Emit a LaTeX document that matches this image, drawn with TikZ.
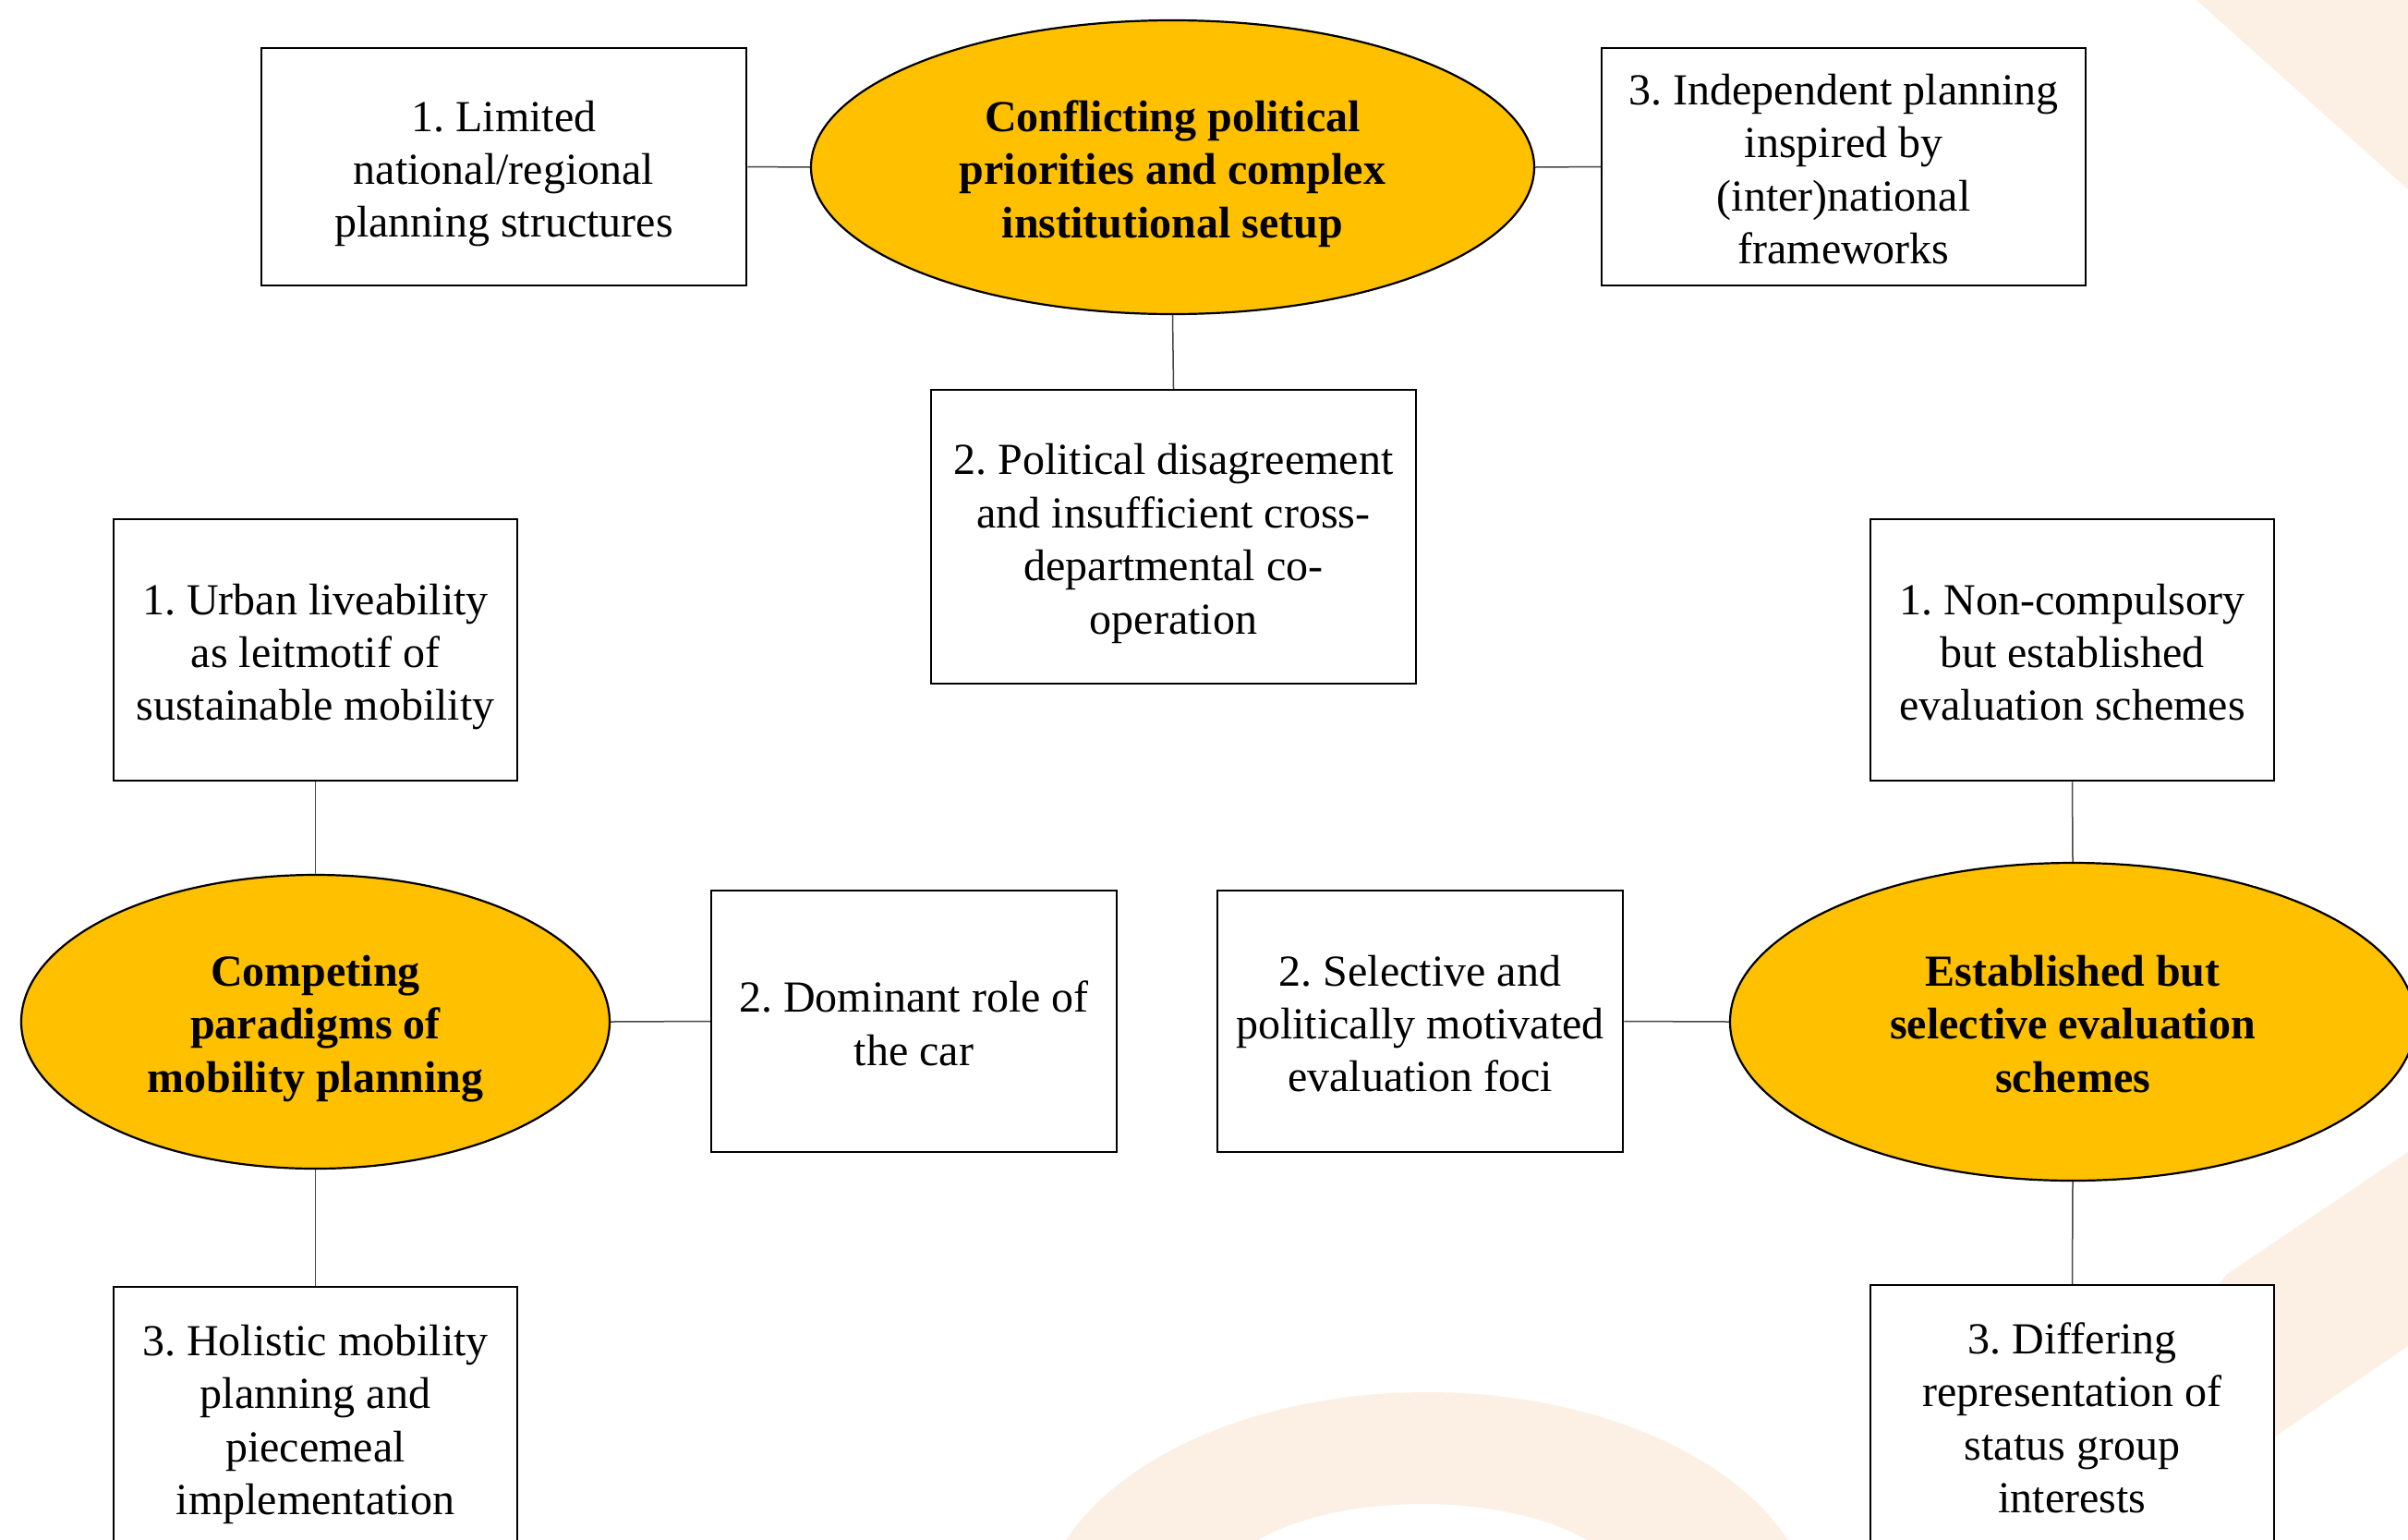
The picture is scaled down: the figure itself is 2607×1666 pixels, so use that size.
\documentclass[tikz,border=0pt]{standalone}
\usepackage{fontspec}
\setmainfont{Liberation Serif}
\usetikzlibrary{shapes.geometric}
\definecolor{gold}{RGB}{255,192,0}
\definecolor{wmark}{RGB}{252,240,228}
\definecolor{linkgray}{RGB}{70,70,70}
\newcommand{\lnstrut}{\rule[-8.6pt]{0pt}{28.7pt}}
\newcommand{\tx}[1]{\lnstrut#1\lnstrut}
\tikzset{
  box/.style={draw=black, line width=1.25pt, fill=white, rectangle, inner sep=0pt},
  oval/.style={draw=black, line width=1.1pt, fill=gold, ellipse, inner sep=0pt},
  txt/.style={inner sep=0pt, align=center, font=\fontsize{24pt}{28.7pt}\selectfont},
  btxt/.style={txt, font=\fontsize{24pt}{28.7pt}\selectfont\bfseries},
  link/.style={draw=linkgray, line width=0.75pt},
  wm/.style={fill=wmark, draw=none}
}
\frenchspacing
\begin{document}
\begin{tikzpicture}[x=0.5pt,y=-0.5pt]
\useasboundingbox (0,0) rectangle (2607,1666);
\clip (0,0) rectangle (2607,1666);
\fill[white] (0,0) rectangle (2607,1666);
% faint watermark
\fill[wm] (2378,0) -- (2607,0) -- (2607,205) -- cycle;
\fill[wm, even odd rule] (1545,1760) ellipse [x radius=420, y radius=253]
                        (1540,1722) ellipse [x radius=219, y radius=94];
\fill[wm] (2410,1380) -- (2607,1247) -- (2607,1457) -- (2300,1666) -- (2200,1666) -- cycle;

% top group
\node[oval, minimum width=391.5pt, minimum height=159pt] (etop) at (1269.5,181) {};
\node[btxt] (etopt) at ([yshift=-3.7pt]etop.center)
  {\tx{Conflicting political\\priorities and complex\\institutional setup}};
\node[box, minimum width=262.5pt, minimum height=128.5pt] (t1) at (545.5,180.5) {};
\node[txt] (t1t) at ([yshift=-3.7pt]t1.center)
  {\tx{1. Limited\\national/regional\\planning structures}};
\node[box, minimum width=262pt, minimum height=128.5pt] (t3) at (1996,180.5) {};
\node[txt] (t3t) at ([yshift=-3.7pt]t3.center)
  {\tx{3. Independent planning\\inspired by\\(inter)national\\frameworks}};
\node[box, minimum width=262.5pt, minimum height=159pt] (t2) at (1270.5,581) {};
\node[txt] (t2t) at ([yshift=-3.7pt]t2.center)
  {\tx{2. Political disagreement\\and insufficient cross-\\departmental co-\\operation}};

% left group
\node[oval, minimum width=318.5pt, minimum height=159pt] (eleft) at (341.5,1106) {};
\node[btxt] (eleftt) at ([yshift=-3.7pt]eleft.center)
  {\tx{Competing\\paradigms of\\mobility planning}};
\node[box, minimum width=218.5pt, minimum height=141.5pt] (l1) at (341.5,703.5) {};
\node[txt] (l1t) at ([yshift=-3.7pt]l1.center)
  {\tx{1. Urban liveability\\as leitmotif of\\sustainable mobility}};
\node[box, minimum width=219.5pt, minimum height=141.5pt] (l2) at (989.5,1105.5) {};
\node[txt] (l2t) at ([yshift=-3.7pt]l2.center)
  {\tx{2. Dominant role of\\the car}};
\node[box, minimum width=218.5pt, minimum height=141.5pt] (l3) at (341.5,1534.5) {};
\node[txt] (l3t) at ([yshift=-3.7pt]l3.center)
  {\tx{3. Holistic mobility\\planning and\\piecemeal\\implementation}};

% right group
\node[oval, minimum width=371pt, minimum height=172pt] (eright) at (2244,1106) {};
\node[btxt] (erightt) at ([yshift=-3.7pt]eright.center)
  {\tx{Established but\\selective evaluation\\schemes}};
\node[box, minimum width=218.5pt, minimum height=141.5pt] (r1) at (2243.5,703.5) {};
\node[txt] (r1t) at ([yshift=-3.7pt]r1.center)
  {\tx{1. Non-compulsory\\but established\\evaluation schemes}};
\node[box, minimum width=219.5pt, minimum height=141.5pt] (r2) at (1537.5,1105.5) {};
\node[txt] (r2t) at ([yshift=-3.7pt]r2.center)
  {\tx{2. Selective and\\politically motivated\\evaluation foci}};
\node[box, minimum width=218.5pt, minimum height=141.5pt] (r3) at (2243.5,1532.5) {};
\node[txt] (r3t) at ([yshift=-3.7pt]r3.center)
  {\tx{3. Differing\\representation of\\status group\\interests}};

% connectors
\draw[link] (t1.east) -- (etop.west);
\draw[link] (etop.east) -- (t3.west);
\draw[link] (etop.south) -- (t2.north);
\draw[link] (l1.south) -- (eleft.north);
\draw[link] (eleft.south) -- (l3.north);
\draw[link] (eleft.east) -- (l2.west);
\draw[link] (r2.east) -- (eright.west);
\draw[link] (r1.south) -- (eright.north);
\draw[link] (eright.south) -- (r3.north);
\end{tikzpicture}
\end{document}
